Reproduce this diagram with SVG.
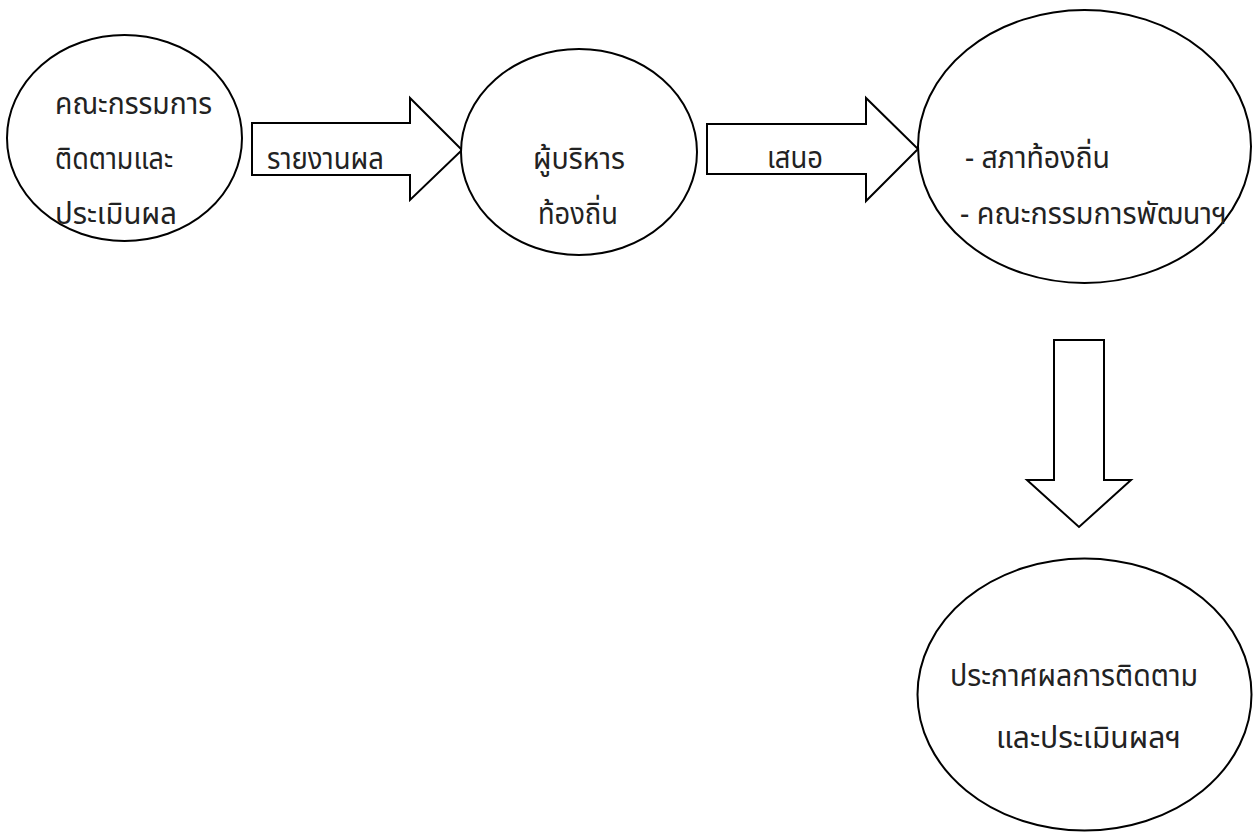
<svg xmlns="http://www.w3.org/2000/svg" width="1253" height="833" viewBox="0 0 1253 833">
<style>
.n{fill:#fff;stroke:#000;stroke-width:2}
.a{fill:#fff;stroke:#000;stroke-width:2;stroke-linejoin:miter}
.t{font-family:"Noto Sans Thai","Leelawadee UI","Noto Sans","DejaVu Sans",sans-serif;font-size:31px;fill:#222}
</style>
<rect width="1253" height="833" fill="#fff"/>
<g id="connectors">
<polygon class="a" points="252,123 410,123 410,98 462,150 410,200 410,175 252,175"/>
<text class="t" x="267" y="169" textLength="117" lengthAdjust="spacingAndGlyphs">รายงานผล</text>
<polygon class="a" points="707,124 866,124 866,98 918,149 866,201 866,174 707,174"/>
<text class="t" x="767" y="168" textLength="56" lengthAdjust="spacingAndGlyphs">เสนอ</text>
<polygon class="a" points="1054,340 1104,340 1104,480 1131,480 1079,527 1027,480 1054,480"/>
</g>
<g id="node1">
<ellipse class="n" cx="124.5" cy="138" rx="117.5" ry="103"/>
<text class="t" x="55" y="114" textLength="157" lengthAdjust="spacingAndGlyphs">คณะกรรมการ</text>
<text class="t" x="55" y="169" textLength="118" lengthAdjust="spacingAndGlyphs">ติดตามและ</text>
<text class="t" x="55" y="224" textLength="122" lengthAdjust="spacingAndGlyphs">ประเมินผล</text>
</g>
<g id="node2">
<ellipse class="n" cx="579" cy="152" rx="118" ry="103"/>
<text class="t" x="533" y="169" textLength="92" lengthAdjust="spacingAndGlyphs">ผู้บริหาร</text>
<text class="t" x="538" y="224" textLength="80" lengthAdjust="spacingAndGlyphs">ท้องถิ่น</text>
</g>
<g id="node3">
<ellipse class="n" cx="1084.5" cy="146.5" rx="166.5" ry="136.5"/>
<text class="t" x="965" y="168" textLength="145" lengthAdjust="spacingAndGlyphs">- สภาท้องถิ่น</text>
<text class="t" x="960" y="224" textLength="267" lengthAdjust="spacingAndGlyphs">- คณะกรรมการพัฒนาฯ</text>
</g>
<g id="node4">
<ellipse class="n" cx="1084.5" cy="694.5" rx="167" ry="136"/>
<text class="t" x="950" y="686" textLength="248" lengthAdjust="spacingAndGlyphs">ประกาศผลการติดตาม</text>
<text class="t" x="996" y="748" textLength="185" lengthAdjust="spacingAndGlyphs">และประเมินผลฯ</text>
</g>
</svg>
